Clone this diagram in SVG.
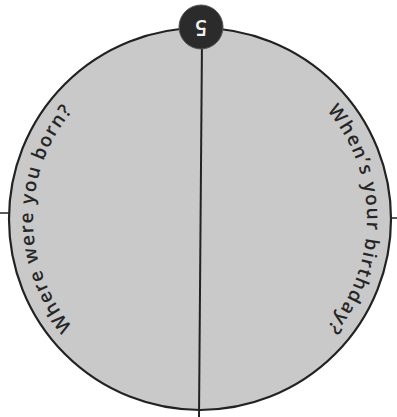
<svg xmlns="http://www.w3.org/2000/svg" width="397" height="417" viewBox="0 0 397 417">
<style>
.lbl{font-family:"Open Sans","Lato","Liberation Sans",sans-serif;font-size:19px;font-weight:600;fill:#262626;}
.num{font-family:"Open Sans","Liberation Sans",sans-serif;font-size:21px;font-weight:600;fill:#f2f2f2;}
</style>
<defs>
<path id="leftArc" d="M 92.7 346.9 A 167 167 0 0 1 92.7 91.1"/>
<path id="rightArc" d="M 307.3 91.1 A 167 167 0 0 1 307.3 346.9"/>
</defs>
<rect width="397" height="417" fill="#ffffff"/>
<g id="disc">
<circle cx="200" cy="219" r="191" fill="#c9c9c9" stroke="#222" stroke-width="2.2"/>
</g>
<g id="connectors">
<line x1="202" y1="40" x2="199" y2="417" stroke="#222" stroke-width="2"/>
<line x1="0" y1="213" x2="9" y2="213" stroke="#222" stroke-width="1.5"/>
<line x1="391" y1="218" x2="397" y2="218" stroke="#222" stroke-width="1.5"/>
</g>
<g id="label-left">
<text class="lbl"><textPath href="#leftArc" startOffset="50%" text-anchor="middle" textLength="234" lengthAdjust="spacing">Where were you born?</textPath></text>
</g>
<g id="label-right">
<text class="lbl"><textPath href="#rightArc" startOffset="50%" text-anchor="middle" textLength="236" lengthAdjust="spacing">When’s your birthday?</textPath></text>
</g>
<g id="node-5">
<circle cx="201" cy="27" r="22" fill="#2b2b2b" stroke="#555" stroke-width="1"/>
<text class="num" x="201" y="28" text-anchor="middle" dominant-baseline="central" transform="rotate(180 201 28)">5</text>
</g>
</svg>
